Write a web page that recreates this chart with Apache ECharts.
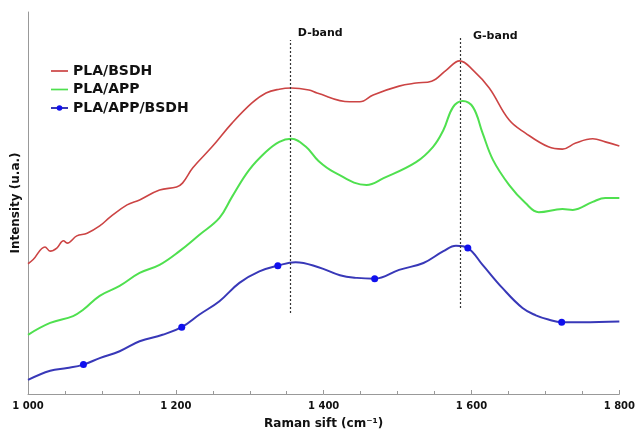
<!DOCTYPE html>
<html><head><meta charset="utf-8">
<script src="https://cdn.jsdelivr.net/npm/echarts@6/dist/echarts.min.js"></script>
<style>html,body{margin:0;padding:0;background:#fff}#c{width:638px;height:435px}</style>
</head><body><div id="c"></div>
<script>
const xTicks = [1000, 1200, 1400, 1600, 1800];

const redX = [1000,1007,1023,1030,1039,1048,1053,1066,1080,1097,1111,1134,1151,1178,1201,1209,1223,1249,1276,1303,1322,1340,1356,1380,1391,1435,1449,1467,1502,1525,1546,1566,1584,1602,1624,1651,1673,1704,1723,1741,1764,1781,1800];
const redY = [34.1,35.2,38.5,37.4,38.2,40.1,39.5,41.4,42.1,44.0,46.3,49.5,50.8,53.4,54.2,55.2,59.2,64.7,70.9,76.2,78.8,79.8,80.1,79.6,78.8,76.5,76.5,78.3,80.6,81.4,81.9,84.8,87.2,84.8,80.1,71.7,68.3,64.7,64.1,65.7,66.8,66.0,64.9];

const greenX = [1000,1030,1061,1075,1097,1124,1151,1178,1205,1232,1259,1276,1299,1322,1340,1356,1376,1393,1414,1458,1481,1525,1548,1562,1575,1588,1602,1615,1629,1651,1673,1691,1723,1737,1764,1781,1800];
const greenY = [15.5,18.6,20.4,22.1,25.7,28.3,31.7,33.8,37.4,41.7,46.1,51.6,58.6,63.4,66.0,66.8,64.7,61.0,58.1,54.7,56.5,60.7,64.7,69.1,75.1,76.7,75.1,68.3,61.3,54.7,50.0,47.6,48.4,48.2,50.3,51.3,51.3];

const blueX = [1000,1030,1053,1075,1097,1124,1151,1182,1208,1232,1259,1286,1313,1338,1362,1393,1422,1445,1469,1502,1535,1562,1579,1595,1615,1642,1669,1687,1704,1722,1750,1800];
const blueY = [3.7,6.1,6.8,7.7,9.4,11.2,13.8,15.5,17.5,20.8,24.3,29.1,32.1,33.6,34.5,33.2,31.1,30.4,30.2,32.5,34.3,37.4,38.8,38.2,33.8,27.7,22.5,20.6,19.5,18.8,18.8,19.0];
const blueMarkers = [1075,1208,1338,1469,1595,1722];

const bandNames = ['D-band', 'G-band'];
const bandX = [1355, 1585];
const bandLineY = [[21.2, 92.7], [22.5, 93.7]];
const bandLabelX = [1365, 1602];
const bandLabelY = [94.4, 93.8];

const zip = (xs, ys) => xs.map((x, i) => [x, ys[i]]);
const blueData = blueX.map((x, i) => blueMarkers.includes(x)
  ? { value: [x, blueY[i]] }
  : { value: [x, blueY[i]], symbol: 'none' });

const FONT = 'DejaVu Sans';
const LINE_ICON = 'path://M0,0H20V2H0Z';
const chart = echarts.init(document.getElementById('c'));
chart.setOption({
  animation: false,
  textStyle: { fontFamily: FONT },
  grid: { left: 28, right: 16, top: 12, bottom: 41 },
  legend: {
    orient: 'vertical', left: 50, top: 64, padding: 0,
    itemWidth: 17, itemHeight: 7, itemGap: 4.5,
    textStyle: { fontFamily: FONT, fontWeight: 'bold', fontSize: 14, color: '#111', lineHeight: 14 },
    data: [
      { name: 'PLA/BSDH', icon: LINE_ICON },
      { name: 'PLA/APP', icon: LINE_ICON },
      { name: 'PLA/APP/BSDH' }
    ]
  },
  xAxis: {
    type: 'value', min: 1000, max: 1800, interval: 200,
    name: 'Raman sift (cm⁻¹)', nameLocation: 'middle', nameGap: 24,
    nameTextStyle: { fontFamily: FONT, fontWeight: 'bold', fontSize: 12, color: '#111' },
    axisLine: { lineStyle: { color: '#999', width: 1 } },
    axisTick: { inside: true, length: 4, lineStyle: { color: '#999' } },
    minorTick: { show: true, splitNumber: 4, length: 3, lineStyle: { color: '#999' } },
    splitLine: { show: false },
    axisLabel: {
      fontFamily: FONT, fontWeight: 'bold', fontSize: 10, color: '#111', margin: 7,
      formatter: v => xTicks.includes(v) ? String(v).replace(/\B(?=(\d{3})+(?!\d))/g, ' ') : ''
    }
  },
  yAxis: {
    type: 'value', min: 0, max: 100,
    name: 'Intensity (u.a.)', nameLocation: 'middle', nameGap: 6,
    nameTextStyle: { fontFamily: FONT, fontWeight: 'bold', fontSize: 12, color: '#111' },
    axisLine: { show: true, lineStyle: { color: '#999', width: 1 } },
    axisTick: { show: false }, axisLabel: { show: false }, splitLine: { show: false }
  },
  series: [
    {
      name: 'PLA/BSDH', type: 'line', data: zip(redX, redY), smooth: 0.4,
      symbol: 'none', lineStyle: { color: '#cc4444', width: 1.6 }, itemStyle: { color: '#cc4444' },
      markLine: {
        silent: true, symbol: 'none', label: { show: false },
        lineStyle: { color: '#333', type: [2, 2], width: 1.2 },
        data: bandX.map((x, i) => [{ coord: [x, bandLineY[i][0]] }, { coord: [x, bandLineY[i][1]] }])
      },
      markPoint: {
        silent: true, symbol: 'circle', symbolSize: 0,
        label: { show: true, position: 'right', distance: 0, formatter: p => p.name,
          fontFamily: FONT, fontWeight: 'bold', fontSize: 11, color: '#111' },
        data: bandNames.map((n, i) => ({ name: n, coord: [bandLabelX[i], bandLabelY[i]] }))
      }
    },
    {
      name: 'PLA/APP', type: 'line', data: zip(greenX, greenY), smooth: 0.4,
      symbol: 'none', lineStyle: { color: '#4fe04f', width: 2 }, itemStyle: { color: '#4fe04f' }
    },
    {
      name: 'PLA/APP/BSDH', type: 'line', data: blueData, smooth: 0.4,
      symbol: 'circle', symbolSize: 7, showSymbol: true,
      lineStyle: { color: '#3838b8', width: 2 }, itemStyle: { color: '#1010ee' }
    }
  ]
});
</script></body></html>
